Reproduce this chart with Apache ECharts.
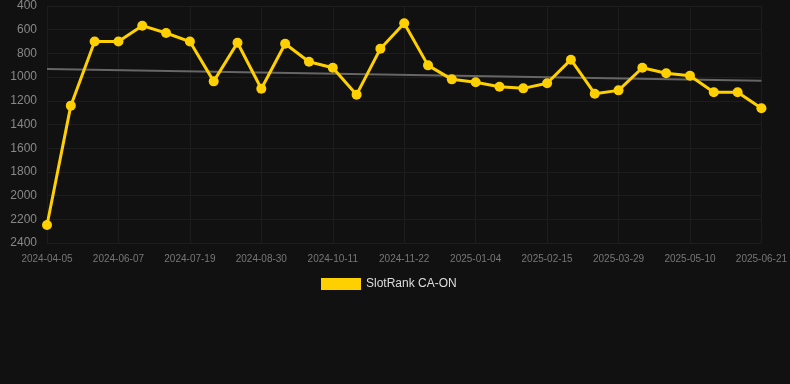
<!DOCTYPE html>
<html>
<head>
<meta charset="utf-8">
<style>
  html, body { margin: 0; padding: 0; background: #111111; }
  #chart { width: 790px; height: 384px; }
</style>
<script src="https://cdn.jsdelivr.net/npm/echarts@6/dist/echarts.min.js"></script>
</head>
<body>
<div id="chart"></div>
<script>
// 类目（每两周一个点，轴上每隔两个显示一个标签）
const dates = [
  '2024-04-05', '2024-04-26', '2024-05-17', '2024-06-07', '2024-06-21', '2024-07-05',
  '2024-07-19', '2024-08-02', '2024-08-16', '2024-08-30', '2024-09-13', '2024-09-27',
  '2024-10-11', '2024-10-25', '2024-11-08', '2024-11-22', '2024-12-06', '2024-12-20',
  '2025-01-04', '2025-01-18', '2025-02-01', '2025-02-15', '2025-03-01', '2025-03-15',
  '2025-03-29', '2025-04-12', '2025-04-26', '2025-05-10', '2025-05-24', '2025-06-07',
  '2025-06-21'
]

// 排名数值
const rankValues = [
  2248, 1241, 700, 700, 566, 628, 700, 1036, 710, 1098, 718, 870,
  921, 1148, 760, 546, 901, 1019, 1044, 1081, 1095, 1052, 853, 1140,
  1112, 921, 968, 988, 1128, 1128, 1263
]

// 趋势线两端
const trendStart = 932
const trendEnd = 1030
const trendValues = dates.map((d, i) =>
  i === 0 ? trendStart : (i === dates.length - 1 ? trendEnd : null))

const yTicks = [400, 600, 800, 1000, 1200, 1400, 1600, 1800, 2000, 2200, 2400]

const chart = echarts.init(document.getElementById('chart'))

chart.setOption({
  backgroundColor: '#111111',
  animation: false,
  grid: { left: 47, right: 28, top: 6, bottom: 141 },
  legend: {
    top: 273,
    left: 316,
    itemWidth: 40,
    itemHeight: 12,
    itemGap: 10,
    data: [{ name: 'SlotRank CA-ON', icon: 'rect' }],
    textStyle: { color: '#dddddd', fontSize: 12, fontFamily: 'Liberation Sans, Arial, sans-serif' }
  },
  xAxis: {
    type: 'category',
    data: dates,
    boundaryGap: false,
    axisLine: { show: false },
    axisTick: { show: false },
    axisLabel: {
      interval: 2,
      color: '#777777',
      fontSize: 10,
      margin: 11,
      fontFamily: 'Liberation Sans, Arial, sans-serif'
    },
    splitLine: { show: true, interval: 2, lineStyle: { color: '#1d1d1d', width: 1 } }
  },
  yAxis: {
    type: 'value',
    inverse: true,
    min: yTicks[0],
    max: yTicks[yTicks.length - 1],
    interval: 200,
    axisLine: { show: false },
    axisTick: { show: false },
    axisLabel: {
      color: '#888888',
      fontSize: 12,
      margin: 10,
      formatter: v => String(v),
      fontFamily: 'Liberation Sans, Arial, sans-serif'
    },
    splitLine: { lineStyle: { color: '#1d1d1d', width: 1 } }
  },
  series: [
    {
      name: 'trend',
      type: 'line',
      data: trendValues,
      connectNulls: true,
      symbol: 'none',
      silent: true,
      lineStyle: { color: '#666666', width: 2 },
      z: 1
    },
    {
      name: 'SlotRank CA-ON',
      type: 'line',
      data: rankValues,
      symbol: 'circle',
      symbolSize: 10,
      itemStyle: { color: '#FFD000' },
      lineStyle: { color: '#FFD000', width: 3 },
      z: 2
    }
  ]
})
</script>
</body>
</html>
